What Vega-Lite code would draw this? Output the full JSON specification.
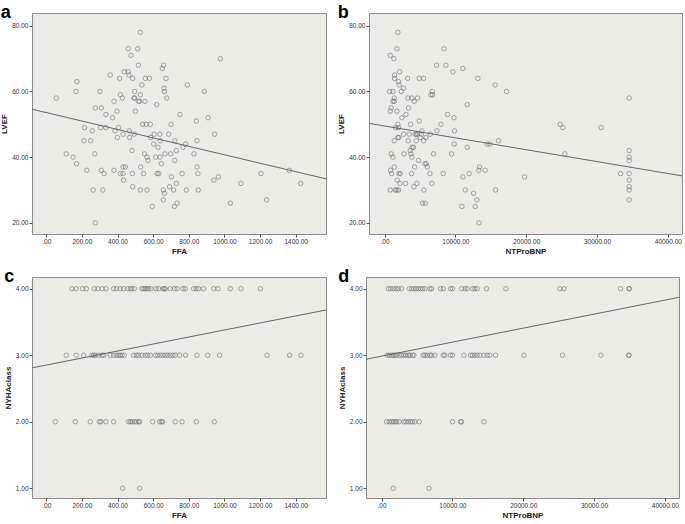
{
"$schema":"https://vega.github.io/schema/vega-lite/v6.json",
"padding":{"left":0,"top":3,"right":0,"bottom":0},
"background":"white",
"spacing":11,
"config":{
 "view":{"fill":"#EEEAE6","stroke":"#8c8c8c","strokeWidth":1},
 "axis":{"domain":false,"grid":false,"tickSize":3,"tickColor":"#555","labelFont":"Liberation Sans","labelFontSize":6.5,"labelColor":"#333","labelPadding":1,"titleFont":"Liberation Sans","titleFontSize":8,"titleFontWeight":"bold","titleColor":"#222","titlePadding":3},
 "title":{"anchor":"start","frame":"bounds","fontSize":18,"fontWeight":"bold","font":"Liberation Sans","color":"#000","offset":-9},
 "point":{"shape":"circle","filled":false,"size":20,"stroke":"#666","strokeWidth":0.8},
 "line":{"color":"#666","strokeWidth":1}
},
"datasets":{
 "a":[{"FFA":56,"LVEF":58},{"FFA":112,"LVEF":41},{"FFA":150,"LVEF":40},{"FFA":170,"LVEF":38},{"FFA":167,"LVEF":60},{"FFA":172,"LVEF":63},{"FFA":215,"LVEF":49},{"FFA":211,"LVEF":45},{"FFA":228,"LVEF":36},{"FFA":249,"LVEF":45},{"FFA":258,"LVEF":48},{"FFA":264,"LVEF":30},{"FFA":273,"LVEF":41},{"FFA":275,"LVEF":20},{"FFA":275,"LVEF":55},{"FFA":301,"LVEF":60},{"FFA":305,"LVEF":49},{"FFA":309,"LVEF":36},{"FFA":309,"LVEF":55},{"FFA":318,"LVEF":30},{"FFA":324,"LVEF":35},{"FFA":335,"LVEF":49},{"FFA":335,"LVEF":53},{"FFA":359,"LVEF":65},{"FFA":372,"LVEF":52},{"FFA":380,"LVEF":57},{"FFA":380,"LVEF":36},{"FFA":386,"LVEF":48},{"FFA":397,"LVEF":54},{"FFA":399,"LVEF":46},{"FFA":406,"LVEF":49},{"FFA":412,"LVEF":64},{"FFA":416,"LVEF":59},{"FFA":416,"LVEF":35},{"FFA":427,"LVEF":58},{"FFA":431,"LVEF":35},{"FFA":431,"LVEF":47},{"FFA":434,"LVEF":33},{"FFA":431,"LVEF":37},{"FFA":444,"LVEF":37},{"FFA":438,"LVEF":66},{"FFA":460,"LVEF":73},{"FFA":460,"LVEF":66},{"FFA":464,"LVEF":65},{"FFA":466,"LVEF":48},{"FFA":468,"LVEF":46},{"FFA":476,"LVEF":71},{"FFA":481,"LVEF":42},{"FFA":485,"LVEF":64},{"FFA":483,"LVEF":35},{"FFA":485,"LVEF":31},{"FFA":492,"LVEF":58},{"FFA":496,"LVEF":58},{"FFA":496,"LVEF":60},{"FFA":494,"LVEF":47},{"FFA":500,"LVEF":54},{"FFA":513,"LVEF":73},{"FFA":517,"LVEF":68},{"FFA":518,"LVEF":57},{"FFA":524,"LVEF":57},{"FFA":528,"LVEF":78},{"FFA":528,"LVEF":59},{"FFA":530,"LVEF":37},{"FFA":528,"LVEF":30},{"FFA":537,"LVEF":62},{"FFA":541,"LVEF":50},{"FFA":546,"LVEF":35},{"FFA":554,"LVEF":57},{"FFA":556,"LVEF":64},{"FFA":552,"LVEF":41},{"FFA":561,"LVEF":50},{"FFA":565,"LVEF":40},{"FFA":565,"LVEF":30},{"FFA":571,"LVEF":39},{"FFA":579,"LVEF":64},{"FFA":584,"LVEF":50},{"FFA":586,"LVEF":46},{"FFA":595,"LVEF":25},{"FFA":603,"LVEF":44},{"FFA":606,"LVEF":47},{"FFA":614,"LVEF":40},{"FFA":620,"LVEF":56},{"FFA":622,"LVEF":35},{"FFA":627,"LVEF":43},{"FFA":631,"LVEF":35},{"FFA":638,"LVEF":40},{"FFA":638,"LVEF":47},{"FFA":640,"LVEF":45},{"FFA":646,"LVEF":38},{"FFA":651,"LVEF":67},{"FFA":659,"LVEF":68},{"FFA":657,"LVEF":30},{"FFA":657,"LVEF":27},{"FFA":661,"LVEF":61},{"FFA":663,"LVEF":60},{"FFA":663,"LVEF":29},{"FFA":666,"LVEF":41},{"FFA":672,"LVEF":64},{"FFA":677,"LVEF":58},{"FFA":687,"LVEF":47},{"FFA":692,"LVEF":31},{"FFA":698,"LVEF":41},{"FFA":700,"LVEF":50},{"FFA":702,"LVEF":34},{"FFA":715,"LVEF":30},{"FFA":719,"LVEF":25},{"FFA":721,"LVEF":39},{"FFA":722,"LVEF":45},{"FFA":730,"LVEF":42},{"FFA":730,"LVEF":32},{"FFA":734,"LVEF":26},{"FFA":750,"LVEF":53},{"FFA":762,"LVEF":35},{"FFA":767,"LVEF":43},{"FFA":782,"LVEF":44},{"FFA":786,"LVEF":30},{"FFA":792,"LVEF":62},{"FFA":829,"LVEF":41},{"FFA":842,"LVEF":51},{"FFA":846,"LVEF":45},{"FFA":846,"LVEF":37},{"FFA":851,"LVEF":35},{"FFA":853,"LVEF":30},{"FFA":887,"LVEF":60},{"FFA":908,"LVEF":52},{"FFA":941,"LVEF":33},{"FFA":945,"LVEF":47},{"FFA":966,"LVEF":34},{"FFA":977,"LVEF":70},{"FFA":1033,"LVEF":26},{"FFA":1093,"LVEF":32},{"FFA":1205,"LVEF":35},{"FFA":1237,"LVEF":27},{"FFA":1364,"LVEF":36},{"FFA":1428,"LVEF":32}],
 "la":[{"FFA":-80,"LVEF":54.6},{"FFA":1570,"LVEF":33.4}],
 "b":[{"NTProBNP":800,"LVEF":71},{"NTProBNP":706,"LVEF":60},{"NTProBNP":800,"LVEF":54},{"NTProBNP":941,"LVEF":55},{"NTProBNP":847,"LVEF":36},{"NTProBNP":941,"LVEF":41},{"NTProBNP":800,"LVEF":30},{"NTProBNP":988,"LVEF":35},{"NTProBNP":1176,"LVEF":40},{"NTProBNP":1176,"LVEF":60},{"NTProBNP":1318,"LVEF":70},{"NTProBNP":1176,"LVEF":57},{"NTProBNP":1365,"LVEF":57},{"NTProBNP":1365,"LVEF":58},{"NTProBNP":1365,"LVEF":37},{"NTProBNP":1412,"LVEF":65},{"NTProBNP":1412,"LVEF":64},{"NTProBNP":1365,"LVEF":45},{"NTProBNP":1553,"LVEF":49},{"NTProBNP":1506,"LVEF":30},{"NTProBNP":1741,"LVEF":73},{"NTProBNP":1741,"LVEF":54},{"NTProBNP":1741,"LVEF":30},{"NTProBNP":1788,"LVEF":33},{"NTProBNP":1882,"LVEF":78},{"NTProBNP":1882,"LVEF":50},{"NTProBNP":1882,"LVEF":46},{"NTProBNP":1976,"LVEF":49},{"NTProBNP":1976,"LVEF":30},{"NTProBNP":1976,"LVEF":63},{"NTProBNP":2071,"LVEF":62},{"NTProBNP":2118,"LVEF":66},{"NTProBNP":2024,"LVEF":46},{"NTProBNP":2024,"LVEF":35},{"NTProBNP":2212,"LVEF":35},{"NTProBNP":2165,"LVEF":32},{"NTProBNP":2353,"LVEF":60},{"NTProBNP":2447,"LVEF":52},{"NTProBNP":2682,"LVEF":61},{"NTProBNP":2682,"LVEF":47},{"NTProBNP":2729,"LVEF":41},{"NTProBNP":2965,"LVEF":32},{"NTProBNP":3012,"LVEF":53},{"NTProBNP":3247,"LVEF":64},{"NTProBNP":3294,"LVEF":58},{"NTProBNP":3341,"LVEF":45},{"NTProBNP":3388,"LVEF":55},{"NTProBNP":3482,"LVEF":47},{"NTProBNP":3624,"LVEF":42},{"NTProBNP":3671,"LVEF":50},{"NTProBNP":3718,"LVEF":41},{"NTProBNP":3812,"LVEF":35},{"NTProBNP":3859,"LVEF":40},{"NTProBNP":3859,"LVEF":58},{"NTProBNP":3906,"LVEF":43},{"NTProBNP":4094,"LVEF":43},{"NTProBNP":4188,"LVEF":57},{"NTProBNP":4141,"LVEF":31},{"NTProBNP":4235,"LVEF":37},{"NTProBNP":4329,"LVEF":47},{"NTProBNP":4471,"LVEF":45},{"NTProBNP":4471,"LVEF":47},{"NTProBNP":4565,"LVEF":32},{"NTProBNP":4659,"LVEF":58},{"NTProBNP":4659,"LVEF":47},{"NTProBNP":4800,"LVEF":39},{"NTProBNP":4894,"LVEF":64},{"NTProBNP":4894,"LVEF":51},{"NTProBNP":5035,"LVEF":46},{"NTProBNP":5176,"LVEF":47},{"NTProBNP":5271,"LVEF":48},{"NTProBNP":5365,"LVEF":26},{"NTProBNP":5506,"LVEF":64},{"NTProBNP":5553,"LVEF":30},{"NTProBNP":5506,"LVEF":45},{"NTProBNP":5694,"LVEF":38},{"NTProBNP":5741,"LVEF":26},{"NTProBNP":5835,"LVEF":46},{"NTProBNP":5882,"LVEF":38},{"NTProBNP":6024,"LVEF":37},{"NTProBNP":6400,"LVEF":35},{"NTProBNP":6447,"LVEF":47},{"NTProBNP":6541,"LVEF":59},{"NTProBNP":6682,"LVEF":32},{"NTProBNP":6729,"LVEF":60},{"NTProBNP":6776,"LVEF":59},{"NTProBNP":6918,"LVEF":41},{"NTProBNP":7341,"LVEF":68},{"NTProBNP":7388,"LVEF":48},{"NTProBNP":7953,"LVEF":50},{"NTProBNP":8282,"LVEF":35},{"NTProBNP":8376,"LVEF":73},{"NTProBNP":8659,"LVEF":68},{"NTProBNP":8894,"LVEF":53},{"NTProBNP":9459,"LVEF":41},{"NTProBNP":9647,"LVEF":66},{"NTProBNP":9788,"LVEF":52},{"NTProBNP":9835,"LVEF":44},{"NTProBNP":9882,"LVEF":48},{"NTProBNP":10918,"LVEF":25},{"NTProBNP":11059,"LVEF":34},{"NTProBNP":11059,"LVEF":67},{"NTProBNP":11388,"LVEF":30},{"NTProBNP":11671,"LVEF":56},{"NTProBNP":11671,"LVEF":43},{"NTProBNP":11953,"LVEF":35},{"NTProBNP":12565,"LVEF":29},{"NTProBNP":12800,"LVEF":25},{"NTProBNP":13035,"LVEF":27},{"NTProBNP":13176,"LVEF":64},{"NTProBNP":13318,"LVEF":20},{"NTProBNP":13318,"LVEF":36},{"NTProBNP":13412,"LVEF":37},{"NTProBNP":14212,"LVEF":36},{"NTProBNP":14494,"LVEF":44},{"NTProBNP":14871,"LVEF":44},{"NTProBNP":15624,"LVEF":62},{"NTProBNP":15671,"LVEF":30},{"NTProBNP":16094,"LVEF":45},{"NTProBNP":17224,"LVEF":60},{"NTProBNP":19765,"LVEF":34},{"NTProBNP":24800,"LVEF":50},{"NTProBNP":25176,"LVEF":49},{"NTProBNP":25459,"LVEF":41},{"NTProBNP":30588,"LVEF":49},{"NTProBNP":33318,"LVEF":35},{"NTProBNP":34540,"LVEF":58},{"NTProBNP":34540,"LVEF":42},{"NTProBNP":34540,"LVEF":40},{"NTProBNP":34540,"LVEF":39},{"NTProBNP":34540,"LVEF":35},{"NTProBNP":34540,"LVEF":33},{"NTProBNP":34540,"LVEF":31},{"NTProBNP":34540,"LVEF":30},{"NTProBNP":34540,"LVEF":27}],
 "lb":[{"NTProBNP":-2200,"LVEF":50.3},{"NTProBNP":42000,"LVEF":34.3}],
 "c":[{"FFA":144,"NYHAclass":4},{"FFA":167,"NYHAclass":4},{"FFA":204,"NYHAclass":4},{"FFA":225,"NYHAclass":4},{"FFA":270,"NYHAclass":4},{"FFA":290,"NYHAclass":4},{"FFA":314,"NYHAclass":4},{"FFA":335,"NYHAclass":4},{"FFA":378,"NYHAclass":4},{"FFA":393,"NYHAclass":4},{"FFA":415,"NYHAclass":4},{"FFA":434,"NYHAclass":4},{"FFA":457,"NYHAclass":4},{"FFA":472,"NYHAclass":4},{"FFA":481,"NYHAclass":4},{"FFA":494,"NYHAclass":4},{"FFA":537,"NYHAclass":4},{"FFA":547,"NYHAclass":4},{"FFA":556,"NYHAclass":4},{"FFA":565,"NYHAclass":4},{"FFA":575,"NYHAclass":4},{"FFA":588,"NYHAclass":4},{"FFA":616,"NYHAclass":4},{"FFA":631,"NYHAclass":4},{"FFA":655,"NYHAclass":4},{"FFA":663,"NYHAclass":4},{"FFA":668,"NYHAclass":4},{"FFA":696,"NYHAclass":4},{"FFA":719,"NYHAclass":4},{"FFA":734,"NYHAclass":4},{"FFA":767,"NYHAclass":4},{"FFA":780,"NYHAclass":4},{"FFA":827,"NYHAclass":4},{"FFA":842,"NYHAclass":4},{"FFA":855,"NYHAclass":4},{"FFA":883,"NYHAclass":4},{"FFA":940,"NYHAclass":4},{"FFA":964,"NYHAclass":4},{"FFA":1033,"NYHAclass":4},{"FFA":1093,"NYHAclass":4},{"FFA":1202,"NYHAclass":4},
  {"FFA":112,"NYHAclass":3},{"FFA":168,"NYHAclass":3},{"FFA":210,"NYHAclass":3},{"FFA":256,"NYHAclass":3},{"FFA":266,"NYHAclass":3},{"FFA":275,"NYHAclass":3},{"FFA":294,"NYHAclass":3},{"FFA":313,"NYHAclass":3},{"FFA":322,"NYHAclass":3},{"FFA":359,"NYHAclass":3},{"FFA":378,"NYHAclass":3},{"FFA":393,"NYHAclass":3},{"FFA":406,"NYHAclass":3},{"FFA":415,"NYHAclass":3},{"FFA":425,"NYHAclass":3},{"FFA":438,"NYHAclass":3},{"FFA":490,"NYHAclass":3},{"FFA":505,"NYHAclass":3},{"FFA":518,"NYHAclass":3},{"FFA":537,"NYHAclass":3},{"FFA":556,"NYHAclass":3},{"FFA":569,"NYHAclass":3},{"FFA":584,"NYHAclass":3},{"FFA":612,"NYHAclass":3},{"FFA":625,"NYHAclass":3},{"FFA":640,"NYHAclass":3},{"FFA":655,"NYHAclass":3},{"FFA":668,"NYHAclass":3},{"FFA":681,"NYHAclass":3},{"FFA":696,"NYHAclass":3},{"FFA":711,"NYHAclass":3},{"FFA":724,"NYHAclass":3},{"FFA":749,"NYHAclass":3},{"FFA":782,"NYHAclass":3},{"FFA":846,"NYHAclass":3},{"FFA":906,"NYHAclass":3},{"FFA":973,"NYHAclass":3},{"FFA":1239,"NYHAclass":3},{"FFA":1366,"NYHAclass":3},{"FFA":1430,"NYHAclass":3},
  {"FFA":51,"NYHAclass":2},{"FFA":163,"NYHAclass":2},{"FFA":247,"NYHAclass":2},{"FFA":298,"NYHAclass":2},{"FFA":307,"NYHAclass":2},{"FFA":335,"NYHAclass":2},{"FFA":378,"NYHAclass":2},{"FFA":462,"NYHAclass":2},{"FFA":472,"NYHAclass":2},{"FFA":481,"NYHAclass":2},{"FFA":494,"NYHAclass":2},{"FFA":505,"NYHAclass":2},{"FFA":518,"NYHAclass":2},{"FFA":524,"NYHAclass":2},{"FFA":597,"NYHAclass":2},{"FFA":636,"NYHAclass":2},{"FFA":646,"NYHAclass":2},{"FFA":653,"NYHAclass":2},{"FFA":724,"NYHAclass":2},{"FFA":762,"NYHAclass":2},{"FFA":842,"NYHAclass":2},{"FFA":943,"NYHAclass":2},
  {"FFA":429,"NYHAclass":1},{"FFA":524,"NYHAclass":1}],
 "lc":[{"FFA":-80,"NYHAclass":2.81},{"FFA":1570,"NYHAclass":3.68}],
 "d":[{"NTProBNP":941,"NYHAclass":4},{"NTProBNP":1271,"NYHAclass":4},{"NTProBNP":1647,"NYHAclass":4},{"NTProBNP":2024,"NYHAclass":4},{"NTProBNP":2353,"NYHAclass":4},{"NTProBNP":2824,"NYHAclass":4},{"NTProBNP":3906,"NYHAclass":4},{"NTProBNP":4235,"NYHAclass":4},{"NTProBNP":4565,"NYHAclass":4},{"NTProBNP":4847,"NYHAclass":4},{"NTProBNP":5176,"NYHAclass":4},{"NTProBNP":5506,"NYHAclass":4},{"NTProBNP":5788,"NYHAclass":4},{"NTProBNP":6118,"NYHAclass":4},{"NTProBNP":6824,"NYHAclass":4},{"NTProBNP":7059,"NYHAclass":4},{"NTProBNP":8329,"NYHAclass":4},{"NTProBNP":8706,"NYHAclass":4},{"NTProBNP":9741,"NYHAclass":4},{"NTProBNP":10024,"NYHAclass":4},{"NTProBNP":11294,"NYHAclass":4},{"NTProBNP":11765,"NYHAclass":4},{"NTProBNP":12094,"NYHAclass":4},{"NTProBNP":12847,"NYHAclass":4},{"NTProBNP":13176,"NYHAclass":4},{"NTProBNP":13506,"NYHAclass":4},{"NTProBNP":14824,"NYHAclass":4},{"NTProBNP":17553,"NYHAclass":4},{"NTProBNP":25176,"NYHAclass":4},{"NTProBNP":25741,"NYHAclass":4},{"NTProBNP":33741,"NYHAclass":4},{"NTProBNP":34965,"NYHAclass":4},{"NTProBNP":34965,"NYHAclass":4},
  {"NTProBNP":800,"NYHAclass":3},{"NTProBNP":1082,"NYHAclass":3},{"NTProBNP":1412,"NYHAclass":3},{"NTProBNP":1647,"NYHAclass":3},{"NTProBNP":1882,"NYHAclass":3},{"NTProBNP":2118,"NYHAclass":3},{"NTProBNP":2494,"NYHAclass":3},{"NTProBNP":2824,"NYHAclass":3},{"NTProBNP":3153,"NYHAclass":3},{"NTProBNP":3435,"NYHAclass":3},{"NTProBNP":3765,"NYHAclass":3},{"NTProBNP":4000,"NYHAclass":3},{"NTProBNP":4376,"NYHAclass":3},{"NTProBNP":4565,"NYHAclass":3},{"NTProBNP":5882,"NYHAclass":3},{"NTProBNP":6118,"NYHAclass":3},{"NTProBNP":6447,"NYHAclass":3},{"NTProBNP":6824,"NYHAclass":3},{"NTProBNP":7059,"NYHAclass":3},{"NTProBNP":7529,"NYHAclass":3},{"NTProBNP":8706,"NYHAclass":3},{"NTProBNP":8941,"NYHAclass":3},{"NTProBNP":9741,"NYHAclass":3},{"NTProBNP":10024,"NYHAclass":3},{"NTProBNP":11624,"NYHAclass":3},{"NTProBNP":12565,"NYHAclass":3},{"NTProBNP":12847,"NYHAclass":3},{"NTProBNP":13176,"NYHAclass":3},{"NTProBNP":13506,"NYHAclass":3},{"NTProBNP":13882,"NYHAclass":3},{"NTProBNP":14447,"NYHAclass":3},{"NTProBNP":14918,"NYHAclass":3},{"NTProBNP":15294,"NYHAclass":3},{"NTProBNP":16094,"NYHAclass":3},{"NTProBNP":20094,"NYHAclass":3},{"NTProBNP":25553,"NYHAclass":3},{"NTProBNP":30965,"NYHAclass":3},{"NTProBNP":34918,"NYHAclass":3},{"NTProBNP":34918,"NYHAclass":3},
  {"NTProBNP":706,"NYHAclass":2},{"NTProBNP":1082,"NYHAclass":2},{"NTProBNP":1412,"NYHAclass":2},{"NTProBNP":1647,"NYHAclass":2},{"NTProBNP":1882,"NYHAclass":2},{"NTProBNP":2118,"NYHAclass":2},{"NTProBNP":2494,"NYHAclass":2},{"NTProBNP":3153,"NYHAclass":2},{"NTProBNP":3435,"NYHAclass":2},{"NTProBNP":3765,"NYHAclass":2},{"NTProBNP":4094,"NYHAclass":2},{"NTProBNP":4376,"NYHAclass":2},{"NTProBNP":4706,"NYHAclass":2},{"NTProBNP":5318,"NYHAclass":2},{"NTProBNP":10024,"NYHAclass":2},{"NTProBNP":11153,"NYHAclass":2},{"NTProBNP":11294,"NYHAclass":2},{"NTProBNP":14447,"NYHAclass":2},
  {"NTProBNP":1647,"NYHAclass":1},{"NTProBNP":6682,"NYHAclass":1}],
 "ld":[{"NTProBNP":-2200,"NYHAclass":2.94},{"NTProBNP":42000,"NYHAclass":3.87}]
},
"vconcat":[
 {"spacing":10,"hconcat":[
  {"width":294,"height":221,"title":"a","layer":[
   {"data":{"name":"a"},"mark":"point","encoding":{
    "x":{"field":"FFA","type":"quantitative","scale":{"domain":[-80,1570],"nice":false,"zero":false},"axis":{"values":[0,200,400,600,800,1000,1200,1400],"labelExpr":"datum.value == 0 ? '.00' : format(datum.value, '.2f')"}},
    "y":{"field":"LVEF","type":"quantitative","scale":{"domain":[16.6,83.9],"nice":false,"zero":false},"axis":{"values":[20,30,40,50,60,70,80],"labelExpr":"format(datum.value, '.2f')"}}}},
   {"data":{"name":"la"},"mark":{"type":"line","clip":true},"encoding":{"x":{"field":"FFA","type":"quantitative"},"y":{"field":"LVEF","type":"quantitative"}}}
  ]},
  {"width":313,"height":221,"title":"b","layer":[
   {"data":{"name":"b"},"mark":"point","encoding":{
    "x":{"field":"NTProBNP","type":"quantitative","scale":{"domain":[-2200,42000],"nice":false,"zero":false},"axis":{"values":[0,10000,20000,30000,40000],"labelExpr":"datum.value == 0 ? '.00' : format(datum.value, '.2f')"}},
    "y":{"field":"LVEF","type":"quantitative","scale":{"domain":[16.6,83.9],"nice":false,"zero":false},"axis":{"values":[20,30,40,50,60,70,80],"labelExpr":"format(datum.value, '.2f')"}}}},
   {"data":{"name":"lb"},"mark":{"type":"line","clip":true},"encoding":{"x":{"field":"NTProBNP","type":"quantitative"},"y":{"field":"LVEF","type":"quantitative"}}}
  ]}
 ]},
 {"spacing":10,"hconcat":[
  {"width":294,"height":221,"title":"c","layer":[
   {"data":{"name":"c"},"mark":"point","encoding":{
    "x":{"field":"FFA","type":"quantitative","scale":{"domain":[-80,1570],"nice":false,"zero":false},"axis":{"values":[0,200,400,600,800,1000,1200,1400],"labelExpr":"datum.value == 0 ? '.00' : format(datum.value, '.2f')"}},
    "y":{"field":"NYHAclass","type":"quantitative","scale":{"domain":[0.854,4.176],"nice":false,"zero":false},"axis":{"values":[1,1.5,2,2.5,3,3.5,4],"labelExpr":"format(datum.value, '.2f')"}}}},
   {"data":{"name":"lc"},"mark":{"type":"line","clip":true},"encoding":{"x":{"field":"FFA","type":"quantitative"},"y":{"field":"NYHAclass","type":"quantitative"}}}
  ]},
  {"width":313,"height":221,"title":"d","layer":[
   {"data":{"name":"d"},"mark":"point","encoding":{
    "x":{"field":"NTProBNP","type":"quantitative","scale":{"domain":[-2200,42000],"nice":false,"zero":false},"axis":{"values":[0,10000,20000,30000,40000],"labelExpr":"datum.value == 0 ? '.00' : format(datum.value, '.2f')"}},
    "y":{"field":"NYHAclass","type":"quantitative","scale":{"domain":[0.854,4.176],"nice":false,"zero":false},"axis":{"values":[1,1.5,2,2.5,3,3.5,4],"labelExpr":"format(datum.value, '.2f')"}}}},
   {"data":{"name":"ld"},"mark":{"type":"line","clip":true},"encoding":{"x":{"field":"NTProBNP","type":"quantitative"},"y":{"field":"NYHAclass","type":"quantitative"}}}
  ]}
 ]}
]
}
